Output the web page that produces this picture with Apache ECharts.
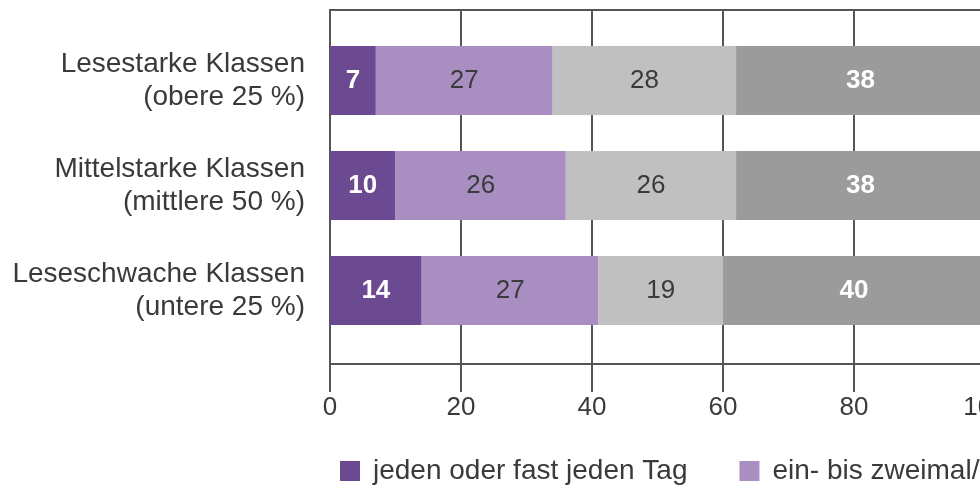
<!DOCTYPE html>
<html>
<head>
<meta charset="utf-8">
<script src="https://cdn.jsdelivr.net/npm/echarts@6/dist/echarts.min.js"></script>
<style>
  html, body { margin: 0; padding: 0; background: #fff; }
  #chart { width: 980px; height: 492px; }
</style>
</head>
<body>
<div id="chart"></div>
<script>
// Reading frequency by class reading level (percent of pupils)
const categories = [
  'Lesestarke Klassen\n(obere 25 %)',
  'Mittelstarke Klassen\n(mittlere 50 %)',
  'Leseschwache Klassen\n(untere 25 %)'
];
const seriesNames = [
  'jeden oder fast jeden Tag',
  'ein- bis zweimal/Woche',
  'ein- bis zweimal/Monat',
  'nie oder fast nie'
];
const daily   = [7, 10, 14];
const weekly  = [27, 26, 27];
const monthly = [28, 26, 19];
const never   = [38, 38, 40];
const xTicks = { min: 0, max: 100, interval: 20 };

const colors = ['#6c4a92', '#a98fc1', '#c0c0c0', '#9b9b9b'];
const labelColors = ['#ffffff', '#3a3a3a', '#3a3a3a', '#ffffff'];
const labelWeights = ['bold', 'normal', 'normal', 'bold'];
const FONT = '"Liberation Sans", Arial, sans-serif';
const LINE = '#555555';
const FS = 26;

const values = [daily, weekly, monthly, never];

const chart = echarts.init(document.getElementById('chart'), null, { renderer: 'canvas' });

chart.setOption({
  animation: false,
  textStyle: { fontFamily: FONT },
  color: colors,
  legend: {
    left: 335,
    top: 452,
    width: 1600,
    itemWidth: 20,
    itemHeight: 20,
    itemGap: 52,
    icon: 'rect',
    textStyle: { fontSize: 28, color: '#3a3a3a', fontFamily: FONT, padding: [0, 0, 0, 8] },
    data: seriesNames
  },
  grid: [
    // frame with the value scale
    { left: 330, top: 10, right: -5, height: 354, show: true, containLabel: false,
      outerBoundsMode: 'none',
      borderColor: LINE, borderWidth: 2, backgroundColor: 'transparent' },
    // area holding the bars
    { left: 330, top: 28, right: -5, height: 315, containLabel: false,
      outerBoundsMode: 'none' }
  ],
  xAxis: [
    {
      gridIndex: 0, type: 'value', min: xTicks.min, max: xTicks.max, interval: xTicks.interval,
      axisLine: { show: false },
      axisTick: { show: true, length: 28, lineStyle: { color: LINE, width: 2 } },
      splitLine: { show: true, lineStyle: { color: LINE, width: 2 } },
      axisLabel: { margin: 31, fontSize: FS, color: '#3a3a3a', fontFamily: FONT }
    },
    {
      gridIndex: 1, type: 'value', min: xTicks.min, max: xTicks.max, interval: xTicks.interval,
      show: false
    }
  ],
  yAxis: [
    { gridIndex: 0, type: 'value', min: 0, max: 1, show: false },
    {
      gridIndex: 1, type: 'category', inverse: true, data: categories,
      axisLine: { show: false }, axisTick: { show: false }, splitLine: { show: false },
      axisLabel: { margin: 25, fontSize: 28, lineHeight: 33, color: '#3a3a3a',
                   fontFamily: FONT, align: 'right', padding: [12, 0, 0, 0] }
    }
  ],
  series: seriesNames.map((name, i) => ({
    name: name,
    type: 'bar',
    stack: 'total',
    xAxisIndex: 1,
    yAxisIndex: 1,
    barWidth: 69,
    data: values[i],
    itemStyle: { color: colors[i] },
    label: {
      show: true,
      position: 'inside',
      fontSize: FS,
      fontFamily: FONT,
      fontWeight: labelWeights[i],
      color: labelColors[i]
    },
    z: 3
  }))
});
</script>
</body>
</html>
